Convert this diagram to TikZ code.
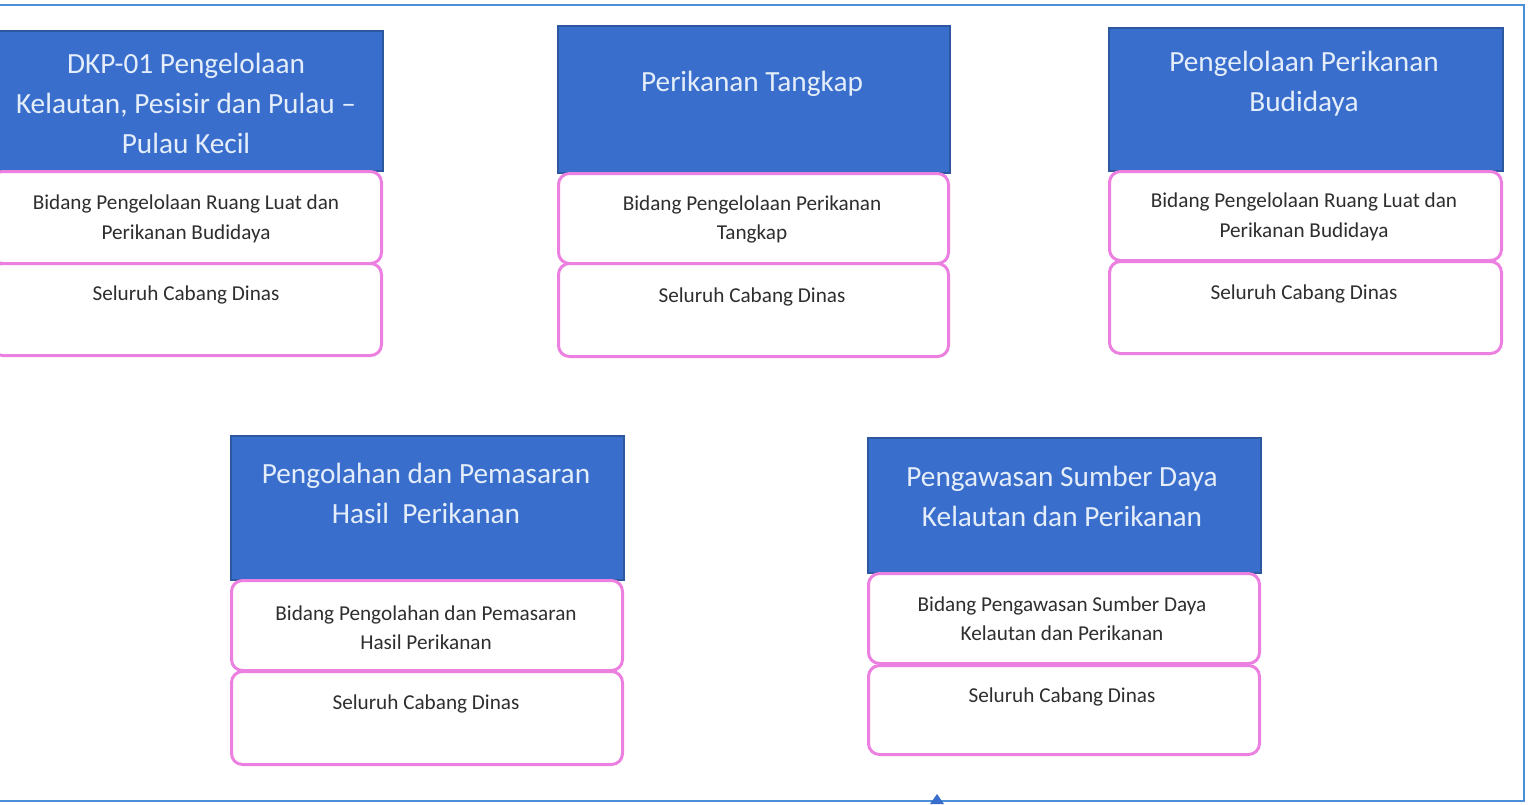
\documentclass[tikz,border=0pt]{standalone}
\usepackage{fontspec}
\usetikzlibrary{calc}
\setmainfont{Carlito}
\definecolor{frameblue}{HTML}{4A8FD8}
\definecolor{hdrfill}{HTML}{3A6ECC}
\definecolor{hdrline}{HTML}{2B589F}
\definecolor{hdrtext}{HTML}{E4EDFA}
\definecolor{pinkline}{HTML}{EC80E0}
\definecolor{bodytext}{HTML}{2E2E2E}
\tikzset{
  hdr/.style={rectangle, fill=hdrfill, draw=hdrline, line width=1.5pt, anchor=north west, inner sep=0pt},
  unitbox/.style={rectangle, rounded corners=11pt, fill=white, draw=pinkline, line width=3pt, anchor=north west, inner sep=0pt},
  hdrtxt/.style={text=hdrtext, align=center, font=\fontsize{29.3}{40}\selectfont, inner sep=0pt},
  bodytxt/.style={text=bodytext, align=center, font=\fontsize{21.2}{29.5}\selectfont, inner sep=0pt},
}
\begin{document}
\begin{tikzpicture}[x=1pt, y=-1pt]
\useasboundingbox (0,0) rectangle (1533,804);
\fill[white] (0,0) rectangle (1533,804);
% outer frame
\draw[frameblue, line width=2pt] (0,5) -- (1524,5) -- (1524,801) -- (0,801);
\coordinate (tipbase) at (937,804);
\fill[hdrfill] ($(tipbase)+(-7,0)$) -- (937,794) -- ($(tipbase)+(7,0)$) -- cycle;

% unit 1
\node[hdr, minimum width=392pt, minimum height=140pt] (h1) at (-10,30) {};
\node[unitbox, minimum width=390pt, minimum height=92pt] (b1a) at (-10,170) {};
\node[unitbox, minimum width=390pt, minimum height=92pt] (b1b) at (-10,262) {};
\node[hdrtxt] (t1) at (186,103) {DKP-01 Pengelolaan\\Kelautan, Pesisir dan Pulau --\\Pulau Kecil};
\node[bodytxt] (s1a) at (186,219) {Bidang Pengelolaan Ruang Luat dan\\Perikanan Budidaya};
\node[bodytxt] (s1b) at (186,295) {Seluruh Cabang Dinas};

% unit 2
\node[hdr, minimum width=392pt, minimum height=147pt] (h2) at (557,25) {};
\node[unitbox, minimum width=390pt, minimum height=90pt] (b2a) at (557,172) {};
\node[unitbox, minimum width=390pt, minimum height=93pt] (b2b) at (557,262) {};
\node[hdrtxt] (t2) at (752,84) {Perikanan Tangkap};
\node[bodytxt] (s2a) at (752,219.5) {Bidang Pengelolaan Perikanan\\Tangkap};
\node[bodytxt] (s2b) at (752,297) {Seluruh Cabang Dinas};

% unit 3
\node[hdr, minimum width=394pt, minimum height=143pt] (h3) at (1108,27) {};
\node[unitbox, minimum width=392pt, minimum height=89pt] (b3a) at (1108,170) {};
\node[unitbox, minimum width=392pt, minimum height=92pt] (b3b) at (1108,260) {};
\node[hdrtxt] (t3) at (1304,84) {Pengelolaan Perikanan\\Budidaya};
\node[bodytxt] (s3a) at (1304,217) {Bidang Pengelolaan Ruang Luat dan\\Perikanan Budidaya};
\node[bodytxt] (s3b) at (1304,294) {Seluruh Cabang Dinas};

% unit 4
\node[hdr, minimum width=393pt, minimum height=144pt] (h4) at (230,435) {};
\node[unitbox, minimum width=391pt, minimum height=90pt] (b4a) at (230,579) {};
\node[unitbox, minimum width=391pt, minimum height=93pt] (b4b) at (230,670) {};
\node[hdrtxt] (t4) at (426,493) {Pengolahan dan Pemasaran\\Hasil~ Perikanan};
\node[bodytxt] (s4a) at (426,627.5) {Bidang Pengolahan dan Pemasaran\\Hasil Perikanan};
\node[bodytxt] (s4b) at (426,704) {Seluruh Cabang Dinas};

% unit 5
\node[hdr, minimum width=393pt, minimum height=135pt] (h5) at (867,437) {};
\node[unitbox, minimum width=391pt, minimum height=90pt] (b5a) at (867,572) {};
\node[unitbox, minimum width=391pt, minimum height=89pt] (b5b) at (867,664) {};
\node[hdrtxt] (t5) at (1062,496) {Pengawasan Sumber Daya\\Kelautan dan Perikanan};
\node[bodytxt] (s5a) at (1062,618.5) {Bidang Pengawasan Sumber Daya\\Kelautan dan Perikanan};
\node[bodytxt] (s5b) at (1062,697) {Seluruh Cabang Dinas};
\end{tikzpicture}
\end{document}
